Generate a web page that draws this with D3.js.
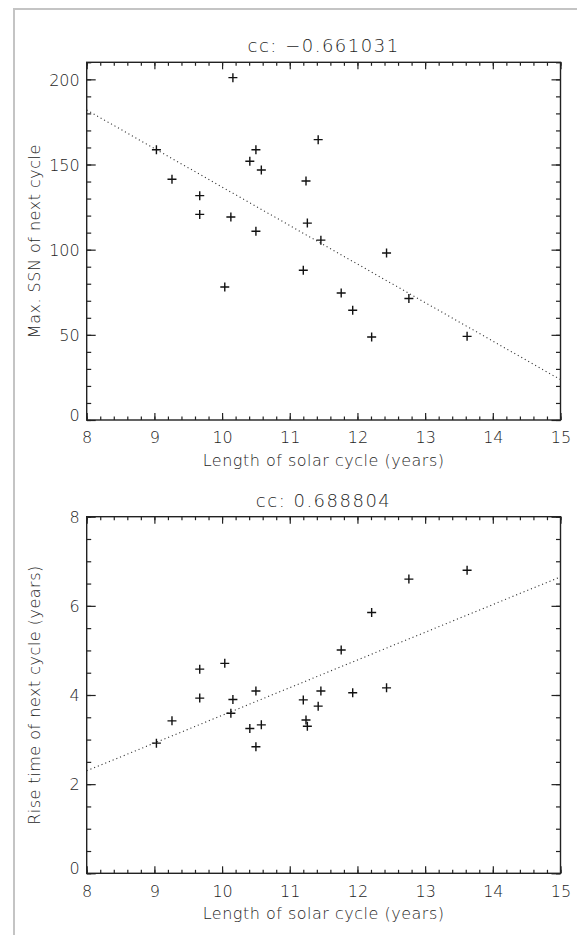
<!DOCTYPE html>
<html>
<head>
<meta charset="utf-8">
<script src="https://cdn.jsdelivr.net/npm/d3@7"></script>
<style>
  html, body { margin: 0; padding: 0; background: #fff; }
  svg { display: block; }
  text { font-family: "DejaVu Sans", sans-serif; fill: #1e1e1e; font-weight: 200; }
</style>
</head>
<body>
<svg id="chart" width="577" height="941"></svg>
<script>
// ---- data ----
const cycleLength = [9.03, 9.26, 9.67, 9.67, 10.04, 10.13, 10.16, 10.41, 10.50, 10.50, 10.58,
                     11.20, 11.24, 11.26, 11.42, 11.46, 11.76, 11.93, 12.21, 12.43, 12.76, 13.62];
const maxSSN      = [158.7, 141.3, 131.7, 120.7, 78.1, 119.2, 201.0, 151.9, 158.7, 110.8, 146.8,
                     87.9, 140.3, 115.6, 164.6, 105.6, 74.6, 64.4, 48.7, 98.0, 71.3, 49.1];
const riseTime    = [2.92, 3.42, 4.58, 3.93, 4.71, 3.59, 3.90, 3.25, 4.09, 2.84, 3.33,
                     3.89, 3.44, 3.30, 3.75, 4.09, 5.01, 4.05, 5.85, 4.16, 6.60, 6.80];
const fitX    = [8, 15];
const fitSSN  = [182.0, 23.7];
const fitRise = [2.30, 6.65];
const xTicks       = [8, 9, 10, 11, 12, 13, 14, 15];
const ssnTicks     = [0, 50, 100, 150, 200];
const riseTicks    = [0, 2, 4, 6, 8];
const titles  = ["cc: \u22120.661031", "cc: 0.688804"];
const xLabel  = "Length of solar cycle (years)";
const yLabels = ["Max. SSN of next cycle", "Rise time of next cycle (years)"];

const svg = d3.select("#chart");

// outer light-grey frame
svg.append("path")
  .attr("d", "M14,935V9H577")
  .attr("fill", "none").attr("stroke", "#c4c4c4").attr("stroke-width", 2);

const L = 86.7, R = 560.5;

function panel(cfg) {
  const x = d3.scaleLinear().domain([8, 15]).range([L, R]);
  const y = d3.scaleLinear().domain(cfg.yDomain).range([cfg.bottom, cfg.top]);
  const g = svg.append("g");

  const xMinor = d3.range(8, 15.0001, 0.2).map(v => +v.toFixed(2));
  const yMinor = d3.range(cfg.yDomain[0], cfg.yDomain[1] + 1e-6, cfg.yMinorStep).map(v => +v.toFixed(3));

  const style = sel => {
    sel.select(".domain").remove();
    sel.selectAll(".tick line").attr("stroke", "#222").attr("stroke-width", 1.2);
  };
  const textStyle = s => s.selectAll("text").attr("font-size", 16)
      .style("font-family", "DejaVu Sans").style("font-weight", 200).attr("fill", "#1e1e1e");

  // bottom axis (labelled)
  g.append("g").attr("transform", `translate(0,${cfg.bottom})`)
    .call(d3.axisBottom(x).tickValues(xMinor).tickSize(-3.5).tickFormat("")).call(style);
  g.append("g").attr("transform", `translate(0,${cfg.bottom})`)
    .call(d3.axisBottom(x).tickValues(xTicks).tickSize(-7).tickPadding(12).tickFormat(d3.format("d")))
    .call(style).call(textStyle);
  // top axis (mirror)
  g.append("g").attr("transform", `translate(0,${cfg.top})`)
    .call(d3.axisTop(x).tickValues(xMinor).tickSize(-3.5).tickFormat("")).call(style);
  g.append("g").attr("transform", `translate(0,${cfg.top})`)
    .call(d3.axisTop(x).tickValues(xTicks).tickSize(-7).tickFormat("")).call(style);

  // left axis (labelled)
  g.append("g").attr("transform", `translate(${L},0)`)
    .call(d3.axisLeft(y).tickValues(yMinor).tickSize(-4.5).tickFormat("")).call(style);
  g.append("g").attr("transform", `translate(${L},0)`)
    .call(d3.axisLeft(y).tickValues(cfg.yTicks).tickSize(-9).tickPadding(7).tickFormat(d3.format("d")))
    .call(style).call(textStyle)
    .call(s => s.selectAll("text").attr("dy", d => d === 0 ? "0.0em" : "0.36em"));
  // right axis (mirror)
  g.append("g").attr("transform", `translate(${R},0)`)
    .call(d3.axisRight(y).tickValues(yMinor).tickSize(-4.5).tickFormat("")).call(style);
  g.append("g").attr("transform", `translate(${R},0)`)
    .call(d3.axisRight(y).tickValues(cfg.yTicks).tickSize(-9).tickFormat("")).call(style);

  // frame
  g.append("rect")
    .attr("x", L).attr("y", cfg.top).attr("width", R - L).attr("height", cfg.bottom - cfg.top)
    .attr("fill", "none").attr("stroke", "#222").attr("stroke-width", 1.4);

  // fit line
  g.append("path")
    .datum(fitX.map((v, i) => [v, cfg.fit[i]]))
    .attr("d", d3.line().x(d => x(d[0])).y(d => y(d[1])))
    .attr("fill", "none").attr("stroke", "#333").attr("stroke-width", 1.1)
    .attr("stroke-dasharray", "1.1,2.9");

  // plus markers
  g.append("g").selectAll("path")
    .data(cycleLength.map((v, i) => [v, cfg.values[i]]))
    .join("path")
    .attr("transform", d => `translate(${x(d[0])},${y(d[1])})`)
    .attr("d", "M-4.5,0H4.5M0,-4.5V4.5")
    .attr("stroke", "#111").attr("stroke-width", 1.4).attr("fill", "none");

  // title
  g.append("text")
    .attr("x", (L + R) / 2).attr("y", cfg.top - 10)
    .attr("text-anchor", "middle").attr("font-size", 18).attr("letter-spacing", 1.5)
    .text(cfg.title);
  // x label
  g.append("text")
    .attr("x", (L + R) / 2).attr("y", cfg.bottom + 46)
    .attr("text-anchor", "middle").attr("font-size", 16).attr("letter-spacing", 0.5)
    .text(xLabel);
  // y label
  g.append("text")
    .attr("transform", `translate(40,${(cfg.top + cfg.bottom) / 2}) rotate(-90)`)
    .attr("text-anchor", "middle").attr("font-size", 16).attr("letter-spacing", 0.5)
    .text(cfg.yLabel);
}

panel({ top: 62.3, bottom: 420, yDomain: [0, 210], yMinorStep: 10, yTicks: ssnTicks,
        values: maxSSN, fit: fitSSN, title: titles[0], yLabel: yLabels[0] });
panel({ top: 516.7, bottom: 873.3, yDomain: [0, 8], yMinorStep: 0.5, yTicks: riseTicks,
        values: riseTime, fit: fitRise, title: titles[1], yLabel: yLabels[1] });
</script>
</body>
</html>
